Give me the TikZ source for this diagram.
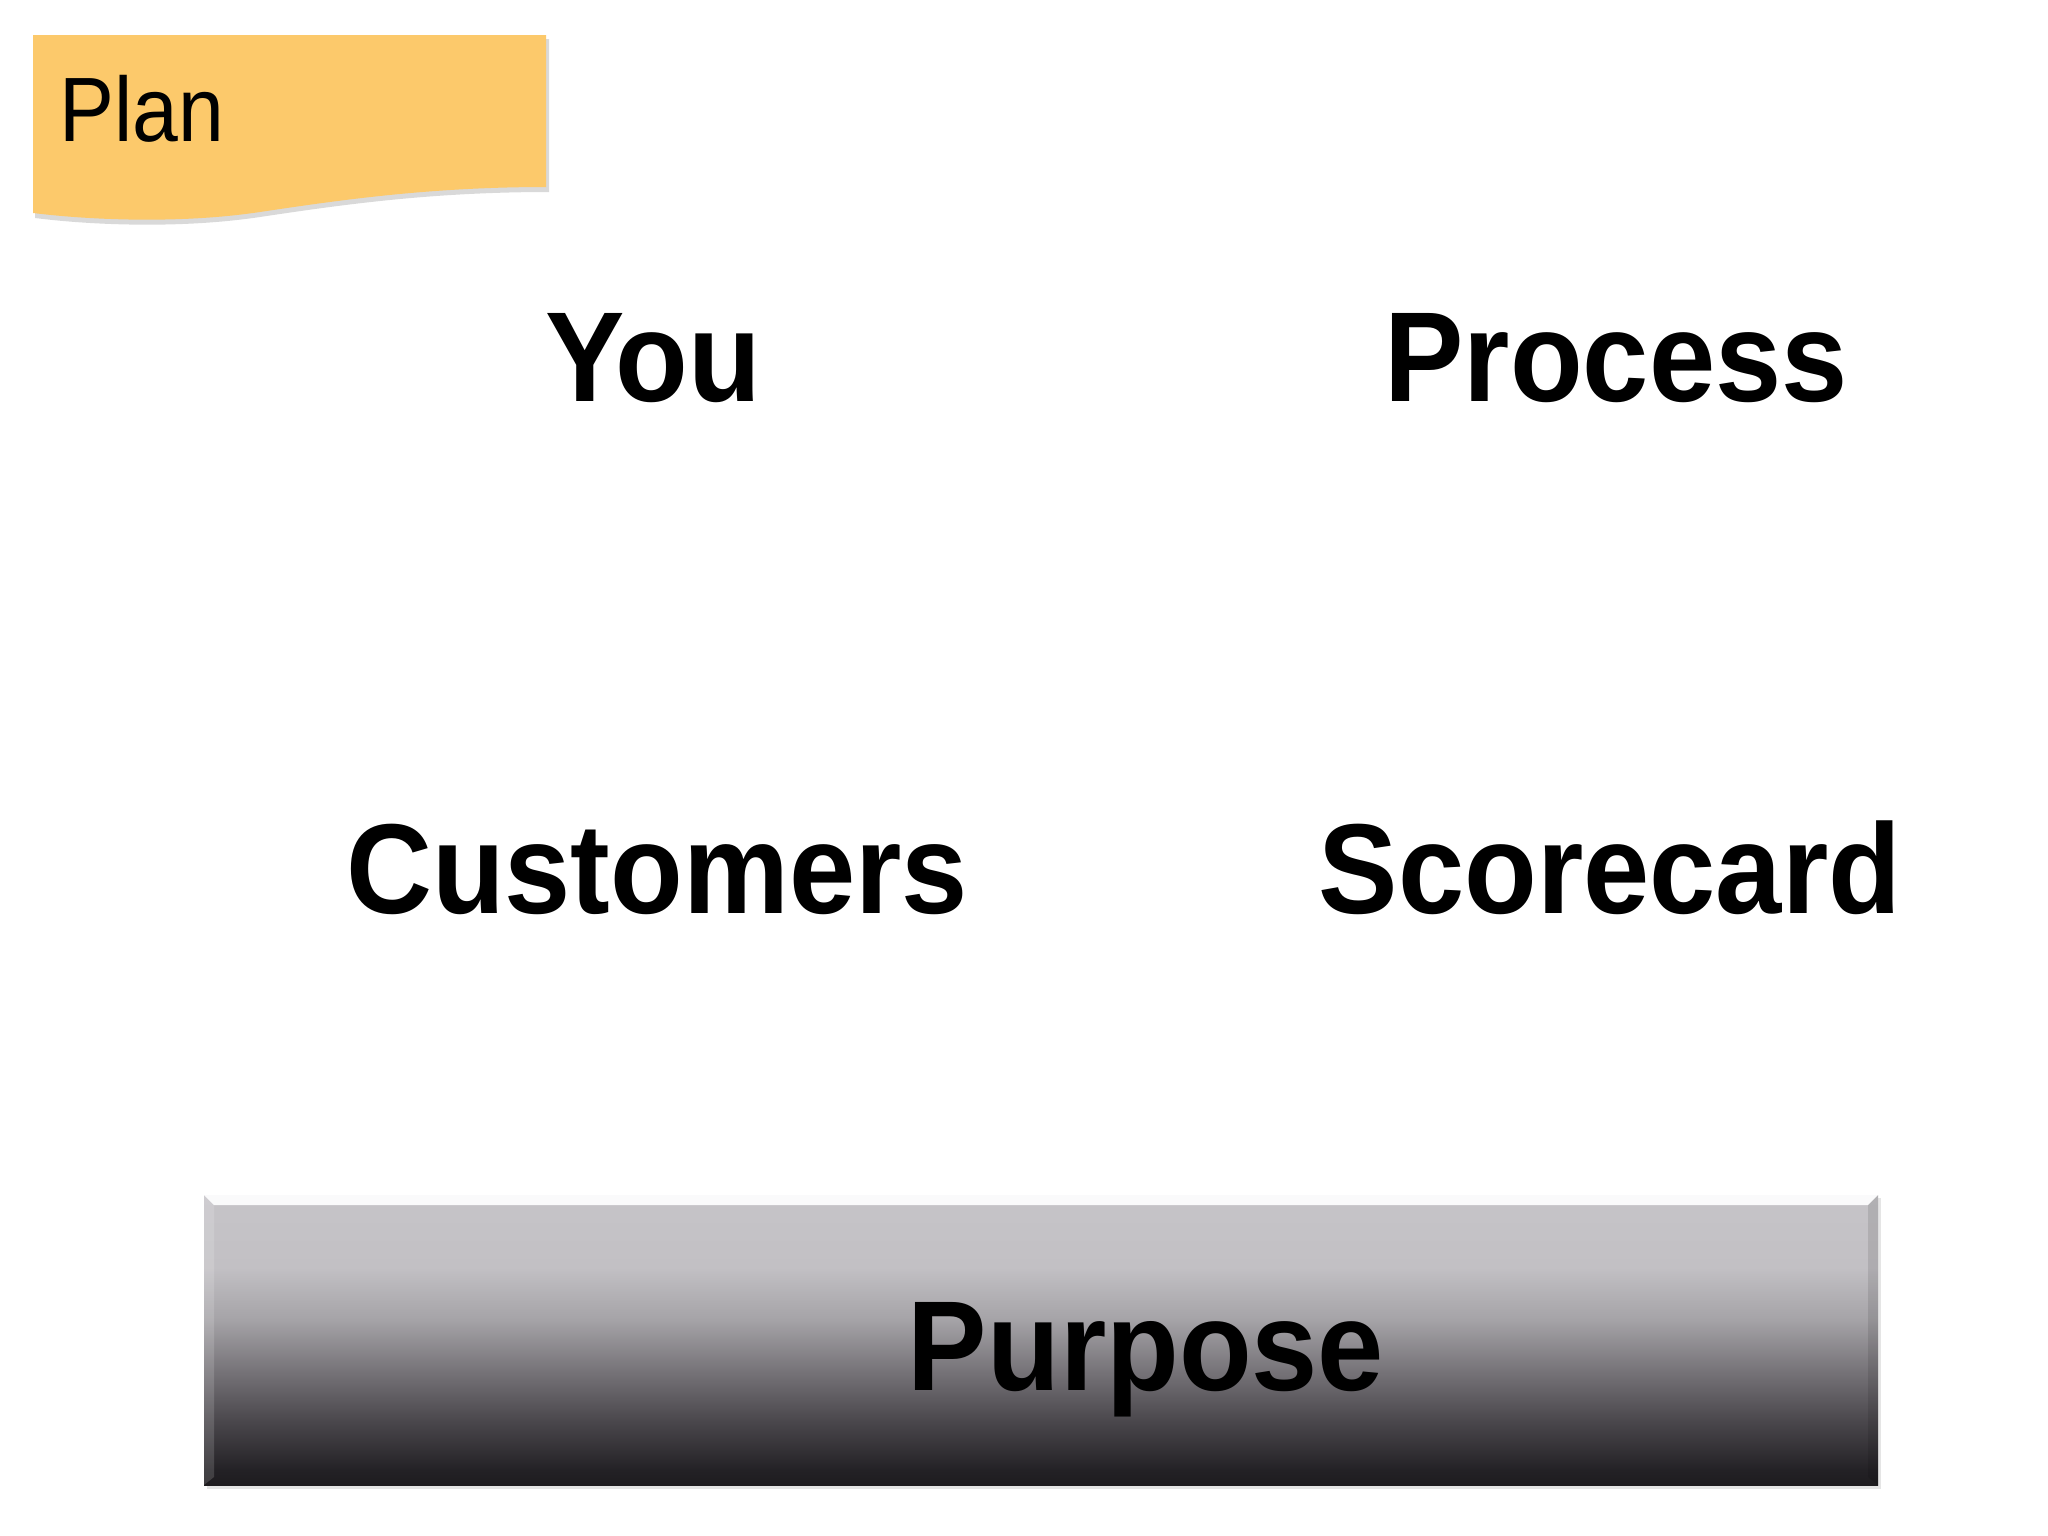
\documentclass[tikz,border=0pt]{standalone}
\usepackage{fontspec}
\setmainfont{Liberation Sans}
\usetikzlibrary{positioning}
\definecolor{noteyellow}{HTML}{FCC96B}
\definecolor{bartop}{HTML}{C6C4C8}
\definecolor{barlight}{HTML}{C2C0C4}
\definecolor{barupper}{HTML}{A5A3A7}
\definecolor{barmid}{HTML}{78757A}
\definecolor{barlower}{HTML}{4A474C}
\definecolor{bardark}{HTML}{232125}
\definecolor{barbot}{HTML}{1E1C1F}
\pgfdeclareverticalshading{purposebar}{100bp}{
    color(0bp)=(barbot); color(25bp)=(barbot); color(27.5bp)=(bardark); color(36bp)=(barlower);
    color(45bp)=(barmid); color(53.5bp)=(barupper); color(62.5bp)=(barlight); color(75bp)=(bartop);
    color(100bp)=(bartop)}

\begin{document}
\begin{tikzpicture}[
        x=0.01cm, y=-0.01cm,
        word/.style={font=\fontsize{36.4}{44}\selectfont\bfseries, anchor=base, inner sep=0pt,
            xscale=0.93, transform shape},
        every node/.style={text=black}
    ]
    \useasboundingbox (0,0) rectangle (2048,1536);
    % sticky note
    \fill[gray!30] (35,39) -- (549,39) -- (549,192) .. controls (430,192) and (340,205) .. (260,217)
        .. controls (180,229) and (90,225) .. (35,218) -- cycle;
    \fill[noteyellow] (33,35) -- (546,35) -- (546,187) .. controls (430,187) and (340,200) .. (260,212)
        .. controls (180,224) and (90,220) .. (33,213) -- cycle;
    \node[font=\fontsize{26}{30}\selectfont, anchor=base west, inner sep=0pt, xscale=0.9, transform shape]
        (plan) at (59,141) {Plan};
    % the four words
    \node[word] (you) at (653,401) {You};
    \node[word] (process) at (1616,401) {Process};
    \node[word] (customers) at (657,913) {Customers};
    \node[word] (scorecard) at (1610,913) {Scorecard};
    % purpose bar
    \fill[gray!20] (207,1198) rectangle (1881,1489);
    \shade[shading=purposebar] (204,1195) rectangle (1878,1485);
    \fill[white!92!bartop] (204,1195) -- (1878,1195) -- (1868,1205) -- (214,1205) -- cycle;
    \fill[white, opacity=0.15] (204,1195) -- (214,1205) -- (214,1477) -- (204,1485) -- cycle;
    \fill[black, opacity=0.1] (1878,1195) -- (1868,1205) -- (1868,1477) -- (1878,1485) -- cycle;
    \node[word] (purpose) at (1146,1390) {Purpose};
\end{tikzpicture}
\end{document}
